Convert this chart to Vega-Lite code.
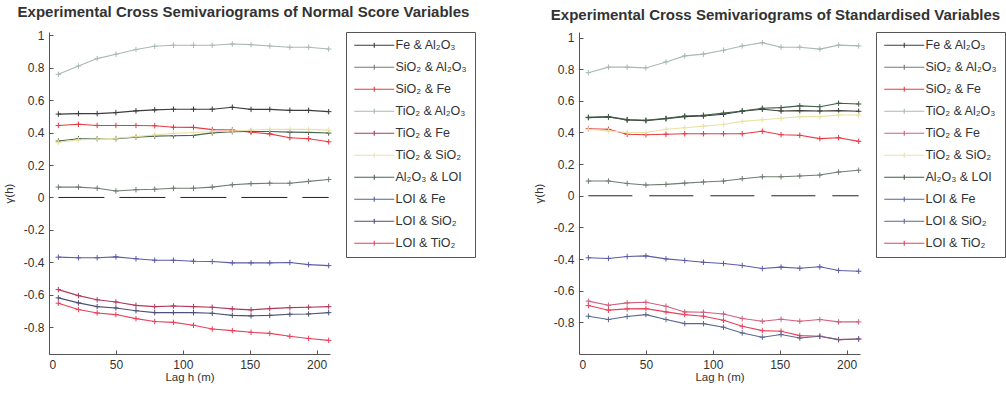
{
  "$schema": "https://vega.github.io/schema/vega-lite/v6.json",
  "padding": {"left": 3, "top": 5, "right": 0, "bottom": 0},
  "background": "white",
  "datasets": {
    "normal": [
      {"pair": "TiO₂ & Al₂O₃", "lag": 7, "gamma": 0.759}, {"pair": "TiO₂ & Al₂O₃", "lag": 22, "gamma": 0.81}, {"pair": "TiO₂ & Al₂O₃", "lag": 36, "gamma": 0.856}, {"pair": "TiO₂ & Al₂O₃", "lag": 50, "gamma": 0.883}, {"pair": "TiO₂ & Al₂O₃", "lag": 65, "gamma": 0.912}, {"pair": "TiO₂ & Al₂O₃", "lag": 79, "gamma": 0.932}, {"pair": "TiO₂ & Al₂O₃", "lag": 93, "gamma": 0.938}, {"pair": "TiO₂ & Al₂O₃", "lag": 108, "gamma": 0.938}, {"pair": "TiO₂ & Al₂O₃", "lag": 122, "gamma": 0.938}, {"pair": "TiO₂ & Al₂O₃", "lag": 137, "gamma": 0.946}, {"pair": "TiO₂ & Al₂O₃", "lag": 151, "gamma": 0.942}, {"pair": "TiO₂ & Al₂O₃", "lag": 165, "gamma": 0.934}, {"pair": "TiO₂ & Al₂O₃", "lag": 180, "gamma": 0.926}, {"pair": "TiO₂ & Al₂O₃", "lag": 194, "gamma": 0.926}, {"pair": "TiO₂ & Al₂O₃", "lag": 209, "gamma": 0.915},
      {"pair": "Fe & Al₂O₃", "lag": 7, "gamma": 0.514}, {"pair": "Fe & Al₂O₃", "lag": 22, "gamma": 0.517}, {"pair": "Fe & Al₂O₃", "lag": 36, "gamma": 0.517}, {"pair": "Fe & Al₂O₃", "lag": 50, "gamma": 0.523}, {"pair": "Fe & Al₂O₃", "lag": 65, "gamma": 0.534}, {"pair": "Fe & Al₂O₃", "lag": 79, "gamma": 0.54}, {"pair": "Fe & Al₂O₃", "lag": 93, "gamma": 0.544}, {"pair": "Fe & Al₂O₃", "lag": 108, "gamma": 0.544}, {"pair": "Fe & Al₂O₃", "lag": 122, "gamma": 0.544}, {"pair": "Fe & Al₂O₃", "lag": 137, "gamma": 0.556}, {"pair": "Fe & Al₂O₃", "lag": 151, "gamma": 0.543}, {"pair": "Fe & Al₂O₃", "lag": 165, "gamma": 0.543}, {"pair": "Fe & Al₂O₃", "lag": 180, "gamma": 0.537}, {"pair": "Fe & Al₂O₃", "lag": 194, "gamma": 0.537}, {"pair": "Fe & Al₂O₃", "lag": 209, "gamma": 0.529},
      {"pair": "SiO₂ & Fe", "lag": 7, "gamma": 0.444}, {"pair": "SiO₂ & Fe", "lag": 22, "gamma": 0.451}, {"pair": "SiO₂ & Fe", "lag": 36, "gamma": 0.444}, {"pair": "SiO₂ & Fe", "lag": 50, "gamma": 0.444}, {"pair": "SiO₂ & Fe", "lag": 65, "gamma": 0.444}, {"pair": "SiO₂ & Fe", "lag": 79, "gamma": 0.442}, {"pair": "SiO₂ & Fe", "lag": 93, "gamma": 0.433}, {"pair": "SiO₂ & Fe", "lag": 108, "gamma": 0.432}, {"pair": "SiO₂ & Fe", "lag": 122, "gamma": 0.418}, {"pair": "SiO₂ & Fe", "lag": 137, "gamma": 0.416}, {"pair": "SiO₂ & Fe", "lag": 151, "gamma": 0.402}, {"pair": "SiO₂ & Fe", "lag": 165, "gamma": 0.392}, {"pair": "SiO₂ & Fe", "lag": 180, "gamma": 0.368}, {"pair": "SiO₂ & Fe", "lag": 194, "gamma": 0.362}, {"pair": "SiO₂ & Fe", "lag": 209, "gamma": 0.343},
      {"pair": "Al₂O₃ & LOI", "lag": 7, "gamma": 0.348}, {"pair": "Al₂O₃ & LOI", "lag": 22, "gamma": 0.362}, {"pair": "Al₂O₃ & LOI", "lag": 36, "gamma": 0.362}, {"pair": "Al₂O₃ & LOI", "lag": 50, "gamma": 0.362}, {"pair": "Al₂O₃ & LOI", "lag": 65, "gamma": 0.372}, {"pair": "Al₂O₃ & LOI", "lag": 79, "gamma": 0.378}, {"pair": "Al₂O₃ & LOI", "lag": 93, "gamma": 0.38}, {"pair": "Al₂O₃ & LOI", "lag": 108, "gamma": 0.383}, {"pair": "Al₂O₃ & LOI", "lag": 122, "gamma": 0.398}, {"pair": "Al₂O₃ & LOI", "lag": 137, "gamma": 0.405}, {"pair": "Al₂O₃ & LOI", "lag": 151, "gamma": 0.407}, {"pair": "Al₂O₃ & LOI", "lag": 165, "gamma": 0.407}, {"pair": "Al₂O₃ & LOI", "lag": 180, "gamma": 0.403}, {"pair": "Al₂O₃ & LOI", "lag": 194, "gamma": 0.401}, {"pair": "Al₂O₃ & LOI", "lag": 209, "gamma": 0.397},
      {"pair": "TiO₂ & SiO₂", "lag": 7, "gamma": 0.34}, {"pair": "TiO₂ & SiO₂", "lag": 22, "gamma": 0.355}, {"pair": "TiO₂ & SiO₂", "lag": 36, "gamma": 0.36}, {"pair": "TiO₂ & SiO₂", "lag": 50, "gamma": 0.365}, {"pair": "TiO₂ & SiO₂", "lag": 65, "gamma": 0.375}, {"pair": "TiO₂ & SiO₂", "lag": 79, "gamma": 0.385}, {"pair": "TiO₂ & SiO₂", "lag": 93, "gamma": 0.395}, {"pair": "TiO₂ & SiO₂", "lag": 108, "gamma": 0.4}, {"pair": "TiO₂ & SiO₂", "lag": 122, "gamma": 0.405}, {"pair": "TiO₂ & SiO₂", "lag": 137, "gamma": 0.41}, {"pair": "TiO₂ & SiO₂", "lag": 151, "gamma": 0.415}, {"pair": "TiO₂ & SiO₂", "lag": 165, "gamma": 0.42}, {"pair": "TiO₂ & SiO₂", "lag": 180, "gamma": 0.42}, {"pair": "TiO₂ & SiO₂", "lag": 194, "gamma": 0.42}, {"pair": "TiO₂ & SiO₂", "lag": 209, "gamma": 0.415},
      {"pair": "SiO₂ & Al₂O₃", "lag": 7, "gamma": 0.064}, {"pair": "SiO₂ & Al₂O₃", "lag": 22, "gamma": 0.064}, {"pair": "SiO₂ & Al₂O₃", "lag": 36, "gamma": 0.057}, {"pair": "SiO₂ & Al₂O₃", "lag": 50, "gamma": 0.04}, {"pair": "SiO₂ & Al₂O₃", "lag": 65, "gamma": 0.048}, {"pair": "SiO₂ & Al₂O₃", "lag": 79, "gamma": 0.051}, {"pair": "SiO₂ & Al₂O₃", "lag": 93, "gamma": 0.057}, {"pair": "SiO₂ & Al₂O₃", "lag": 108, "gamma": 0.057}, {"pair": "SiO₂ & Al₂O₃", "lag": 122, "gamma": 0.064}, {"pair": "SiO₂ & Al₂O₃", "lag": 137, "gamma": 0.078}, {"pair": "SiO₂ & Al₂O₃", "lag": 151, "gamma": 0.085}, {"pair": "SiO₂ & Al₂O₃", "lag": 165, "gamma": 0.088}, {"pair": "SiO₂ & Al₂O₃", "lag": 180, "gamma": 0.088}, {"pair": "SiO₂ & Al₂O₃", "lag": 194, "gamma": 0.099}, {"pair": "SiO₂ & Al₂O₃", "lag": 209, "gamma": 0.111},
      {"pair": "LOI & Fe", "lag": 7, "gamma": -0.368}, {"pair": "LOI & Fe", "lag": 22, "gamma": -0.372}, {"pair": "LOI & Fe", "lag": 36, "gamma": -0.372}, {"pair": "LOI & Fe", "lag": 50, "gamma": -0.366}, {"pair": "LOI & Fe", "lag": 65, "gamma": -0.378}, {"pair": "LOI & Fe", "lag": 79, "gamma": -0.387}, {"pair": "LOI & Fe", "lag": 93, "gamma": -0.387}, {"pair": "LOI & Fe", "lag": 108, "gamma": -0.393}, {"pair": "LOI & Fe", "lag": 122, "gamma": -0.395}, {"pair": "LOI & Fe", "lag": 137, "gamma": -0.403}, {"pair": "LOI & Fe", "lag": 151, "gamma": -0.403}, {"pair": "LOI & Fe", "lag": 165, "gamma": -0.403}, {"pair": "LOI & Fe", "lag": 180, "gamma": -0.401}, {"pair": "LOI & Fe", "lag": 194, "gamma": -0.414}, {"pair": "LOI & Fe", "lag": 209, "gamma": -0.42},
      {"pair": "TiO₂ & Fe", "lag": 7, "gamma": -0.568}, {"pair": "TiO₂ & Fe", "lag": 22, "gamma": -0.605}, {"pair": "TiO₂ & Fe", "lag": 36, "gamma": -0.631}, {"pair": "TiO₂ & Fe", "lag": 50, "gamma": -0.644}, {"pair": "TiO₂ & Fe", "lag": 65, "gamma": -0.665}, {"pair": "TiO₂ & Fe", "lag": 79, "gamma": -0.673}, {"pair": "TiO₂ & Fe", "lag": 93, "gamma": -0.669}, {"pair": "TiO₂ & Fe", "lag": 108, "gamma": -0.673}, {"pair": "TiO₂ & Fe", "lag": 122, "gamma": -0.677}, {"pair": "TiO₂ & Fe", "lag": 137, "gamma": -0.687}, {"pair": "TiO₂ & Fe", "lag": 151, "gamma": -0.693}, {"pair": "TiO₂ & Fe", "lag": 165, "gamma": -0.685}, {"pair": "TiO₂ & Fe", "lag": 180, "gamma": -0.679}, {"pair": "TiO₂ & Fe", "lag": 194, "gamma": -0.677}, {"pair": "TiO₂ & Fe", "lag": 209, "gamma": -0.673},
      {"pair": "LOI & SiO₂", "lag": 7, "gamma": -0.619}, {"pair": "LOI & SiO₂", "lag": 22, "gamma": -0.65}, {"pair": "LOI & SiO₂", "lag": 36, "gamma": -0.673}, {"pair": "LOI & SiO₂", "lag": 50, "gamma": -0.681}, {"pair": "LOI & SiO₂", "lag": 65, "gamma": -0.698}, {"pair": "LOI & SiO₂", "lag": 79, "gamma": -0.71}, {"pair": "LOI & SiO₂", "lag": 93, "gamma": -0.71}, {"pair": "LOI & SiO₂", "lag": 108, "gamma": -0.71}, {"pair": "LOI & SiO₂", "lag": 122, "gamma": -0.714}, {"pair": "LOI & SiO₂", "lag": 137, "gamma": -0.727}, {"pair": "LOI & SiO₂", "lag": 151, "gamma": -0.73}, {"pair": "LOI & SiO₂", "lag": 165, "gamma": -0.727}, {"pair": "LOI & SiO₂", "lag": 180, "gamma": -0.72}, {"pair": "LOI & SiO₂", "lag": 194, "gamma": -0.718}, {"pair": "LOI & SiO₂", "lag": 209, "gamma": -0.71},
      {"pair": "LOI & TiO₂", "lag": 7, "gamma": -0.652}, {"pair": "LOI & TiO₂", "lag": 22, "gamma": -0.691}, {"pair": "LOI & TiO₂", "lag": 36, "gamma": -0.712}, {"pair": "LOI & TiO₂", "lag": 50, "gamma": -0.722}, {"pair": "LOI & TiO₂", "lag": 65, "gamma": -0.747}, {"pair": "LOI & TiO₂", "lag": 79, "gamma": -0.765}, {"pair": "LOI & TiO₂", "lag": 93, "gamma": -0.77}, {"pair": "LOI & TiO₂", "lag": 108, "gamma": -0.788}, {"pair": "LOI & TiO₂", "lag": 122, "gamma": -0.811}, {"pair": "LOI & TiO₂", "lag": 137, "gamma": -0.821}, {"pair": "LOI & TiO₂", "lag": 151, "gamma": -0.831}, {"pair": "LOI & TiO₂", "lag": 165, "gamma": -0.838}, {"pair": "LOI & TiO₂", "lag": 180, "gamma": -0.856}, {"pair": "LOI & TiO₂", "lag": 194, "gamma": -0.869}, {"pair": "LOI & TiO₂", "lag": 209, "gamma": -0.881}
    ],
    "standard": [
      {"pair": "TiO₂ & Al₂O₃", "lag": 7, "gamma": 0.778}, {"pair": "TiO₂ & Al₂O₃", "lag": 22, "gamma": 0.813}, {"pair": "TiO₂ & Al₂O₃", "lag": 36, "gamma": 0.813}, {"pair": "TiO₂ & Al₂O₃", "lag": 50, "gamma": 0.808}, {"pair": "TiO₂ & Al₂O₃", "lag": 65, "gamma": 0.846}, {"pair": "TiO₂ & Al₂O₃", "lag": 79, "gamma": 0.884}, {"pair": "TiO₂ & Al₂O₃", "lag": 93, "gamma": 0.895}, {"pair": "TiO₂ & Al₂O₃", "lag": 108, "gamma": 0.92}, {"pair": "TiO₂ & Al₂O₃", "lag": 122, "gamma": 0.947}, {"pair": "TiO₂ & Al₂O₃", "lag": 137, "gamma": 0.968}, {"pair": "TiO₂ & Al₂O₃", "lag": 151, "gamma": 0.939}, {"pair": "TiO₂ & Al₂O₃", "lag": 165, "gamma": 0.939}, {"pair": "TiO₂ & Al₂O₃", "lag": 180, "gamma": 0.927}, {"pair": "TiO₂ & Al₂O₃", "lag": 194, "gamma": 0.952}, {"pair": "TiO₂ & Al₂O₃", "lag": 209, "gamma": 0.947},
      {"pair": "Fe & Al₂O₃", "lag": 7, "gamma": 0.494}, {"pair": "Fe & Al₂O₃", "lag": 22, "gamma": 0.498}, {"pair": "Fe & Al₂O₃", "lag": 36, "gamma": 0.479}, {"pair": "Fe & Al₂O₃", "lag": 50, "gamma": 0.475}, {"pair": "Fe & Al₂O₃", "lag": 65, "gamma": 0.487}, {"pair": "Fe & Al₂O₃", "lag": 79, "gamma": 0.5}, {"pair": "Fe & Al₂O₃", "lag": 93, "gamma": 0.504}, {"pair": "Fe & Al₂O₃", "lag": 108, "gamma": 0.515}, {"pair": "Fe & Al₂O₃", "lag": 122, "gamma": 0.534}, {"pair": "Fe & Al₂O₃", "lag": 137, "gamma": 0.547}, {"pair": "Fe & Al₂O₃", "lag": 151, "gamma": 0.536}, {"pair": "Fe & Al₂O₃", "lag": 165, "gamma": 0.538}, {"pair": "Fe & Al₂O₃", "lag": 180, "gamma": 0.536}, {"pair": "Fe & Al₂O₃", "lag": 194, "gamma": 0.538}, {"pair": "Fe & Al₂O₃", "lag": 209, "gamma": 0.534},
      {"pair": "Al₂O₃ & LOI", "lag": 7, "gamma": 0.496}, {"pair": "Al₂O₃ & LOI", "lag": 22, "gamma": 0.5}, {"pair": "Al₂O₃ & LOI", "lag": 36, "gamma": 0.481}, {"pair": "Al₂O₃ & LOI", "lag": 50, "gamma": 0.477}, {"pair": "Al₂O₃ & LOI", "lag": 65, "gamma": 0.489}, {"pair": "Al₂O₃ & LOI", "lag": 79, "gamma": 0.504}, {"pair": "Al₂O₃ & LOI", "lag": 93, "gamma": 0.509}, {"pair": "Al₂O₃ & LOI", "lag": 108, "gamma": 0.522}, {"pair": "Al₂O₃ & LOI", "lag": 122, "gamma": 0.536}, {"pair": "Al₂O₃ & LOI", "lag": 137, "gamma": 0.553}, {"pair": "Al₂O₃ & LOI", "lag": 151, "gamma": 0.557}, {"pair": "Al₂O₃ & LOI", "lag": 165, "gamma": 0.568}, {"pair": "Al₂O₃ & LOI", "lag": 180, "gamma": 0.563}, {"pair": "Al₂O₃ & LOI", "lag": 194, "gamma": 0.585}, {"pair": "Al₂O₃ & LOI", "lag": 209, "gamma": 0.58},
      {"pair": "SiO₂ & Fe", "lag": 7, "gamma": 0.424}, {"pair": "SiO₂ & Fe", "lag": 22, "gamma": 0.42}, {"pair": "SiO₂ & Fe", "lag": 36, "gamma": 0.389}, {"pair": "SiO₂ & Fe", "lag": 50, "gamma": 0.386}, {"pair": "SiO₂ & Fe", "lag": 65, "gamma": 0.389}, {"pair": "SiO₂ & Fe", "lag": 79, "gamma": 0.392}, {"pair": "SiO₂ & Fe", "lag": 93, "gamma": 0.392}, {"pair": "SiO₂ & Fe", "lag": 108, "gamma": 0.392}, {"pair": "SiO₂ & Fe", "lag": 122, "gamma": 0.392}, {"pair": "SiO₂ & Fe", "lag": 137, "gamma": 0.408}, {"pair": "SiO₂ & Fe", "lag": 151, "gamma": 0.386}, {"pair": "SiO₂ & Fe", "lag": 165, "gamma": 0.382}, {"pair": "SiO₂ & Fe", "lag": 180, "gamma": 0.361}, {"pair": "SiO₂ & Fe", "lag": 194, "gamma": 0.367}, {"pair": "SiO₂ & Fe", "lag": 209, "gamma": 0.344},
      {"pair": "TiO₂ & SiO₂", "lag": 7, "gamma": 0.42}, {"pair": "TiO₂ & SiO₂", "lag": 22, "gamma": 0.41}, {"pair": "TiO₂ & SiO₂", "lag": 36, "gamma": 0.4}, {"pair": "TiO₂ & SiO₂", "lag": 50, "gamma": 0.4}, {"pair": "TiO₂ & SiO₂", "lag": 65, "gamma": 0.42}, {"pair": "TiO₂ & SiO₂", "lag": 79, "gamma": 0.43}, {"pair": "TiO₂ & SiO₂", "lag": 93, "gamma": 0.44}, {"pair": "TiO₂ & SiO₂", "lag": 108, "gamma": 0.45}, {"pair": "TiO₂ & SiO₂", "lag": 122, "gamma": 0.47}, {"pair": "TiO₂ & SiO₂", "lag": 137, "gamma": 0.48}, {"pair": "TiO₂ & SiO₂", "lag": 151, "gamma": 0.49}, {"pair": "TiO₂ & SiO₂", "lag": 165, "gamma": 0.5}, {"pair": "TiO₂ & SiO₂", "lag": 180, "gamma": 0.5}, {"pair": "TiO₂ & SiO₂", "lag": 194, "gamma": 0.51}, {"pair": "TiO₂ & SiO₂", "lag": 209, "gamma": 0.51},
      {"pair": "SiO₂ & Al₂O₃", "lag": 7, "gamma": 0.093}, {"pair": "SiO₂ & Al₂O₃", "lag": 22, "gamma": 0.093}, {"pair": "SiO₂ & Al₂O₃", "lag": 36, "gamma": 0.078}, {"pair": "SiO₂ & Al₂O₃", "lag": 50, "gamma": 0.068}, {"pair": "SiO₂ & Al₂O₃", "lag": 65, "gamma": 0.072}, {"pair": "SiO₂ & Al₂O₃", "lag": 79, "gamma": 0.08}, {"pair": "SiO₂ & Al₂O₃", "lag": 93, "gamma": 0.087}, {"pair": "SiO₂ & Al₂O₃", "lag": 108, "gamma": 0.093}, {"pair": "SiO₂ & Al₂O₃", "lag": 122, "gamma": 0.108}, {"pair": "SiO₂ & Al₂O₃", "lag": 137, "gamma": 0.12}, {"pair": "SiO₂ & Al₂O₃", "lag": 151, "gamma": 0.12}, {"pair": "SiO₂ & Al₂O₃", "lag": 165, "gamma": 0.125}, {"pair": "SiO₂ & Al₂O₃", "lag": 180, "gamma": 0.131}, {"pair": "SiO₂ & Al₂O₃", "lag": 194, "gamma": 0.15}, {"pair": "SiO₂ & Al₂O₃", "lag": 209, "gamma": 0.161},
      {"pair": "LOI & Fe", "lag": 7, "gamma": -0.392}, {"pair": "LOI & Fe", "lag": 22, "gamma": -0.396}, {"pair": "LOI & Fe", "lag": 36, "gamma": -0.384}, {"pair": "LOI & Fe", "lag": 50, "gamma": -0.38}, {"pair": "LOI & Fe", "lag": 65, "gamma": -0.399}, {"pair": "LOI & Fe", "lag": 79, "gamma": -0.409}, {"pair": "LOI & Fe", "lag": 93, "gamma": -0.42}, {"pair": "LOI & Fe", "lag": 108, "gamma": -0.428}, {"pair": "LOI & Fe", "lag": 122, "gamma": -0.441}, {"pair": "LOI & Fe", "lag": 137, "gamma": -0.46}, {"pair": "LOI & Fe", "lag": 151, "gamma": -0.451}, {"pair": "LOI & Fe", "lag": 165, "gamma": -0.458}, {"pair": "LOI & Fe", "lag": 180, "gamma": -0.449}, {"pair": "LOI & Fe", "lag": 194, "gamma": -0.472}, {"pair": "LOI & Fe", "lag": 209, "gamma": -0.477},
      {"pair": "TiO₂ & Fe", "lag": 7, "gamma": -0.666}, {"pair": "TiO₂ & Fe", "lag": 22, "gamma": -0.692}, {"pair": "TiO₂ & Fe", "lag": 36, "gamma": -0.677}, {"pair": "TiO₂ & Fe", "lag": 50, "gamma": -0.673}, {"pair": "TiO₂ & Fe", "lag": 65, "gamma": -0.698}, {"pair": "TiO₂ & Fe", "lag": 79, "gamma": -0.734}, {"pair": "TiO₂ & Fe", "lag": 93, "gamma": -0.736}, {"pair": "TiO₂ & Fe", "lag": 108, "gamma": -0.747}, {"pair": "TiO₂ & Fe", "lag": 122, "gamma": -0.776}, {"pair": "TiO₂ & Fe", "lag": 137, "gamma": -0.793}, {"pair": "TiO₂ & Fe", "lag": 151, "gamma": -0.78}, {"pair": "TiO₂ & Fe", "lag": 165, "gamma": -0.793}, {"pair": "TiO₂ & Fe", "lag": 180, "gamma": -0.782}, {"pair": "TiO₂ & Fe", "lag": 194, "gamma": -0.797}, {"pair": "TiO₂ & Fe", "lag": 209, "gamma": -0.797},
      {"pair": "LOI & TiO₂", "lag": 7, "gamma": -0.694}, {"pair": "LOI & TiO₂", "lag": 22, "gamma": -0.723}, {"pair": "LOI & TiO₂", "lag": 36, "gamma": -0.715}, {"pair": "LOI & TiO₂", "lag": 50, "gamma": -0.713}, {"pair": "LOI & TiO₂", "lag": 65, "gamma": -0.734}, {"pair": "LOI & TiO₂", "lag": 79, "gamma": -0.751}, {"pair": "LOI & TiO₂", "lag": 93, "gamma": -0.761}, {"pair": "LOI & TiO₂", "lag": 108, "gamma": -0.787}, {"pair": "LOI & TiO₂", "lag": 122, "gamma": -0.825}, {"pair": "LOI & TiO₂", "lag": 137, "gamma": -0.852}, {"pair": "LOI & TiO₂", "lag": 151, "gamma": -0.856}, {"pair": "LOI & TiO₂", "lag": 165, "gamma": -0.884}, {"pair": "LOI & TiO₂", "lag": 180, "gamma": -0.888}, {"pair": "LOI & TiO₂", "lag": 194, "gamma": -0.909}, {"pair": "LOI & TiO₂", "lag": 209, "gamma": -0.905},
      {"pair": "LOI & SiO₂", "lag": 7, "gamma": -0.761}, {"pair": "LOI & SiO₂", "lag": 22, "gamma": -0.782}, {"pair": "LOI & SiO₂", "lag": 36, "gamma": -0.763}, {"pair": "LOI & SiO₂", "lag": 50, "gamma": -0.751}, {"pair": "LOI & SiO₂", "lag": 65, "gamma": -0.782}, {"pair": "LOI & SiO₂", "lag": 79, "gamma": -0.808}, {"pair": "LOI & SiO₂", "lag": 93, "gamma": -0.808}, {"pair": "LOI & SiO₂", "lag": 108, "gamma": -0.831}, {"pair": "LOI & SiO₂", "lag": 122, "gamma": -0.867}, {"pair": "LOI & SiO₂", "lag": 137, "gamma": -0.894}, {"pair": "LOI & SiO₂", "lag": 151, "gamma": -0.877}, {"pair": "LOI & SiO₂", "lag": 165, "gamma": -0.899}, {"pair": "LOI & SiO₂", "lag": 180, "gamma": -0.888}, {"pair": "LOI & SiO₂", "lag": 194, "gamma": -0.909}, {"pair": "LOI & SiO₂", "lag": 209, "gamma": -0.905}
    ],
    "zero": [{"start": 7, "end": 209, "level": 0}]
  },
  "spacing": 57,
  "resolve": {
    "scale": {"x": "independent", "y": "independent", "color": "independent", "strokeWidth": "independent"},
    "legend": {"color": "independent"}
  },
  "hconcat": [
    {
      "width": 281,
      "height": 322,
      "title": {"text": "Experimental Cross Semivariograms of Normal Score Variables", "frame": "group", "anchor": "middle", "dx": 54},
      "layer": [
        {
          "data": {"name": "zero"},
          "mark": {"type": "rule", "color": "#222222", "strokeWidth": 1, "strokeDash": [46, 15]},
          "encoding": {
            "x": {"field": "start", "type": "quantitative", "title": "Lag h (m)", "scale": {"domain": [0, 210], "nice": false, "zero": false}, "axis": {"values": [0, 50, 100, 150, 200], "tickCount": 12, "labelOverlap": false}},
            "x2": {"field": "end"},
            "y": {"field": "level", "type": "quantitative", "title": "γ(h)", "scale": {"domain": [-0.965, 1.02], "nice": false, "zero": false}, "axis": {"values": [-0.8, -0.6, -0.4, -0.2, 0, 0.2, 0.4, 0.6, 0.8, 1], "tickCount": 12, "labelOverlap": false, "labelExpr": "toString(round(datum.value*10)/10)"}}
          }
        },
        {
          "data": {"name": "normal"},
          "mark": {"type": "line", "strokeWidth": 1.1},
          "encoding": {
            "x": {"field": "lag", "type": "quantitative", "title": "Lag h (m)", "axis": {"values": [0, 50, 100, 150, 200], "tickCount": 12, "labelOverlap": false}},
            "y": {"field": "gamma", "type": "quantitative", "title": "γ(h)", "axis": {"values": [-0.8, -0.6, -0.4, -0.2, 0, 0.2, 0.4, 0.6, 0.8, 1], "tickCount": 12, "labelOverlap": false, "labelExpr": "toString(round(datum.value*10)/10)"}},
            "color": {"field": "pair", "type": "nominal", "scale": {"domain": ["Fe & Al₂O₃", "SiO₂ & Al₂O₃", "SiO₂ & Fe", "TiO₂ & Al₂O₃", "TiO₂ & Fe", "TiO₂ & SiO₂", "Al₂O₃ & LOI", "LOI & Fe", "LOI & SiO₂", "LOI & TiO₂"], "range": ["#3c3c3c", "#6f7d72", "#e63a44", "#a9bab3", "#b13a5c", "#e9e2a6", "#4a6650", "#5b5ca6", "#4c5278", "#e8405a"]}, "legend": {"title": null}},
            "strokeWidth": {"field": "pair", "type": "nominal", "scale": {"domain": ["Fe & Al₂O₃", "SiO₂ & Al₂O₃", "SiO₂ & Fe", "TiO₂ & Al₂O₃", "TiO₂ & Fe", "TiO₂ & SiO₂", "Al₂O₃ & LOI", "LOI & Fe", "LOI & SiO₂", "LOI & TiO₂"], "range": [1.1, 1.1, 1.4, 1.1, 1.1, 2.6, 1.1, 1.1, 1.1, 1.4]}, "legend": null}
          }
        },
        {
          "data": {"name": "normal"},
          "mark": {"type": "point", "shape": "M-1,0H1M0,-1V1", "filled": false, "size": 30, "strokeWidth": 1, "opacity": 1},
          "encoding": {
            "x": {"field": "lag", "type": "quantitative"},
            "y": {"field": "gamma", "type": "quantitative"},
            "color": {"field": "pair", "type": "nominal"}
          }
        }
      ]
    },
    {
      "width": 281,
      "height": 322,
      "title": {"text": "Experimental Cross Semivariograms of Standardised Variables", "frame": "group", "anchor": "middle", "dx": 56},
      "layer": [
        {
          "data": {"name": "zero"},
          "mark": {"type": "rule", "color": "#222222", "strokeWidth": 1, "strokeDash": [44, 17]},
          "encoding": {
            "x": {"field": "start", "type": "quantitative", "title": "Lag h (m)", "scale": {"domain": [0, 210], "nice": false, "zero": false}, "axis": {"values": [0, 50, 100, 150, 200], "tickCount": 12, "labelOverlap": false}},
            "x2": {"field": "end"},
            "y": {"field": "level", "type": "quantitative", "title": "γ(h)", "scale": {"domain": [-1.0, 1.035], "nice": false, "zero": false}, "axis": {"values": [-0.8, -0.6, -0.4, -0.2, 0, 0.2, 0.4, 0.6, 0.8, 1], "tickCount": 12, "labelOverlap": false, "labelExpr": "toString(round(datum.value*10)/10)"}}
          }
        },
        {
          "data": {"name": "standard"},
          "mark": {"type": "line", "strokeWidth": 1.1},
          "encoding": {
            "x": {"field": "lag", "type": "quantitative", "title": "Lag h (m)", "axis": {"values": [0, 50, 100, 150, 200], "tickCount": 12, "labelOverlap": false}},
            "y": {"field": "gamma", "type": "quantitative", "title": "γ(h)", "axis": {"values": [-0.8, -0.6, -0.4, -0.2, 0, 0.2, 0.4, 0.6, 0.8, 1], "tickCount": 12, "labelOverlap": false, "labelExpr": "toString(round(datum.value*10)/10)"}},
            "color": {"field": "pair", "type": "nominal", "scale": {"domain": ["Fe & Al₂O₃", "SiO₂ & Al₂O₃", "SiO₂ & Fe", "TiO₂ & Al₂O₃", "TiO₂ & Fe", "TiO₂ & SiO₂", "Al₂O₃ & LOI", "LOI & Fe", "LOI & SiO₂", "LOI & TiO₂"], "range": ["#3c3c3c", "#6f7d72", "#e63a44", "#a9bab3", "#d0607e", "#e9e2a6", "#3f5e46", "#5b5ca6", "#5a6890", "#e8405a"]}, "legend": {"title": null}},
            "strokeWidth": {"field": "pair", "type": "nominal", "scale": {"domain": ["Fe & Al₂O₃", "SiO₂ & Al₂O₃", "SiO₂ & Fe", "TiO₂ & Al₂O₃", "TiO₂ & Fe", "TiO₂ & SiO₂", "Al₂O₃ & LOI", "LOI & Fe", "LOI & SiO₂", "LOI & TiO₂"], "range": [1.1, 1.1, 1.4, 1.1, 1.1, 2.6, 1.1, 1.1, 1.1, 1.4]}, "legend": null}
          }
        },
        {
          "data": {"name": "standard"},
          "mark": {"type": "point", "shape": "M-1,0H1M0,-1V1", "filled": false, "size": 30, "strokeWidth": 1, "opacity": 1},
          "encoding": {
            "x": {"field": "lag", "type": "quantitative"},
            "y": {"field": "gamma", "type": "quantitative"},
            "color": {"field": "pair", "type": "nominal"}
          }
        }
      ]
    }
  ],
  "config": {
    "view": {"stroke": null},
    "font": "Liberation Sans",
    "title": {"font": "Liberation Sans", "fontSize": 15, "fontWeight": "bold", "color": "#333333", "offset": 9},
    "axis": {
      "grid": false,
      "labelOverlap": false,
      "domainColor": "#555555",
      "tickColor": "#555555",
      "tickSize": -4,
      "labelPadding": 9,
      "labelColor": "#333333",
      "labelFont": "Liberation Sans",
      "labelFontSize": 12,
      "titleFont": "Liberation Sans",
      "titleFontSize": 11.5,
      "titleFontWeight": "normal",
      "titleColor": "#333333"
    },
    "axisY": {"titlePadding": 9},
    "axisX": {"titlePadding": 1},
    "legend": {
      "orient": "right",
      "offset": 15,
      "strokeColor": "#555555",
      "fillColor": "white",
      "padding": 7,
      "symbolType": "M-4,0H4M0,-0.5V0.5",
      "symbolSize": 100,
      "symbolOffset": 15,
      "symbolStrokeWidth": 1,
      "labelFont": "Liberation Sans",
      "labelFontSize": 12.5,
      "labelColor": "#333333",
      "labelOffset": 15,
      "rowPadding": 9
    }
  }
}
